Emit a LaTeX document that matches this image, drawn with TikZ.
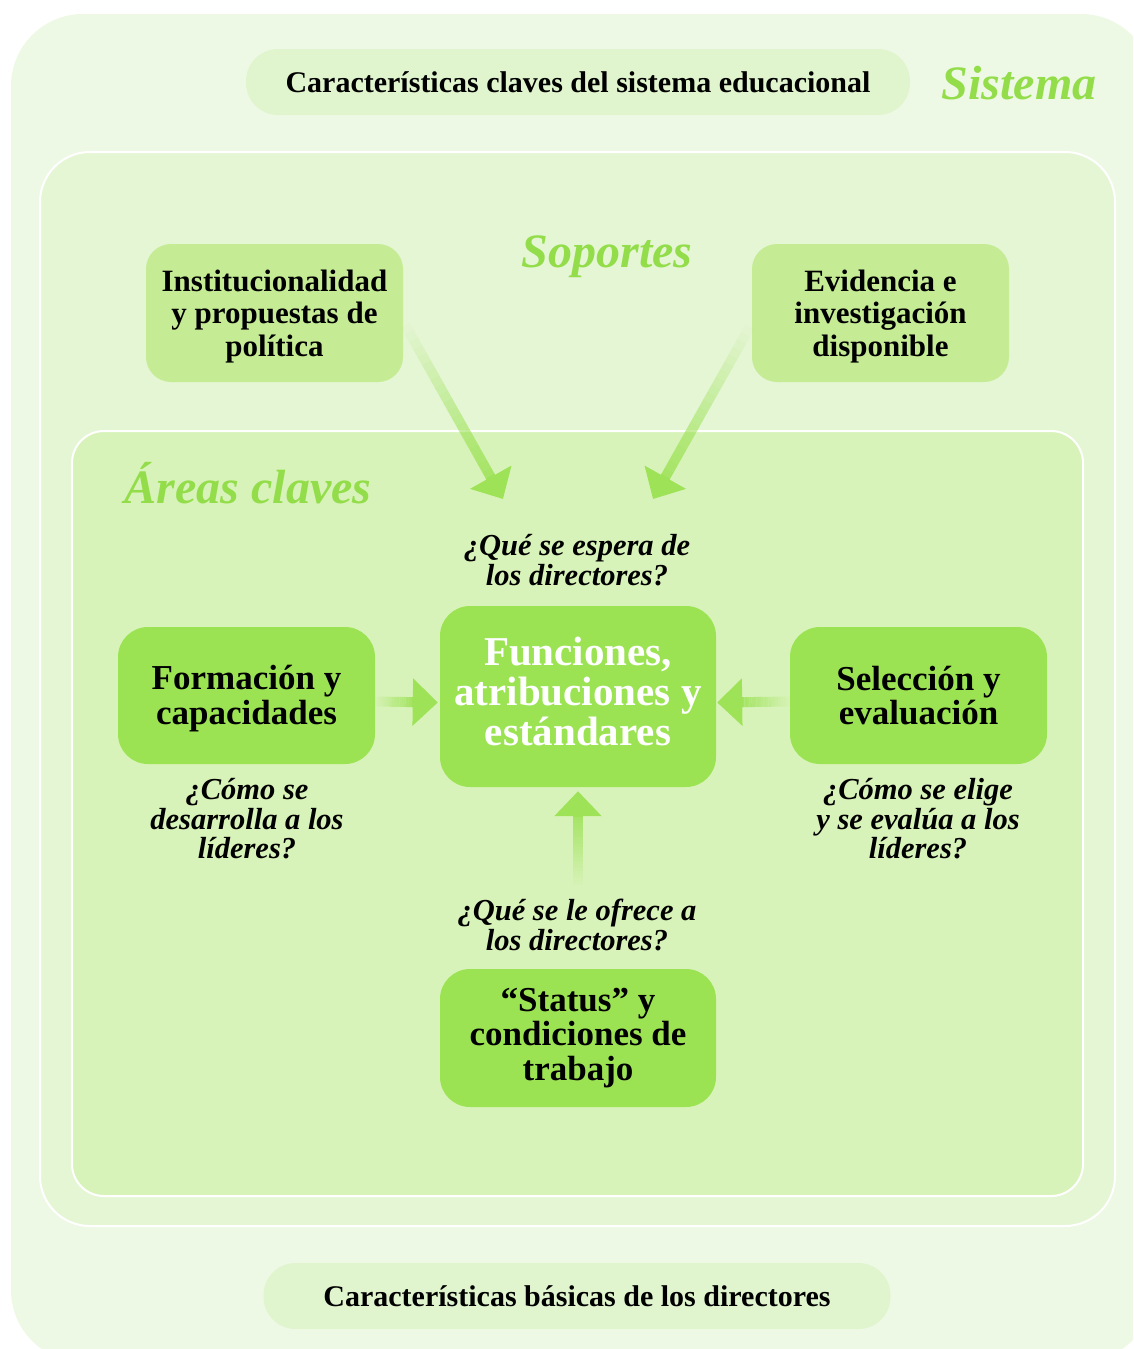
\documentclass[tikz,border=0pt]{standalone}
\usepackage{fontspec}
\setmainfont{Liberation Serif}
\usetikzlibrary{calc,arrows.meta}

\definecolor{bgouter}{HTML}{EEF9E5}
\definecolor{bgmid}{HTML}{E5F6D5}
\definecolor{bginner}{HTML}{D8F3B9}
\definecolor{pillgreen}{HTML}{E0F5CD}
\definecolor{softgreen}{HTML}{C5EC95}
\definecolor{boxgreen}{HTML}{9CE354}
\definecolor{titlegreen}{HTML}{93DD4B}
\definecolor{arrowgreen}{HTML}{9DE257}

\tikzset{
  pill/.style={fill=pillgreen, rounded corners=32pt, minimum height=66pt,
    font=\fontsize{30}{34}\selectfont\bfseries},
  softbox/.style={fill=softgreen, rounded corners=25pt, minimum width=257pt,
    minimum height=138pt, align=center, text height=93pt,
    font=\fontsize{31}{32.5}\selectfont\bfseries},
  greenbox/.style={fill=boxgreen, rounded corners=30pt, minimum width=257pt,
    minimum height=137pt, align=center, font=\fontsize{35}{34.5}\selectfont\bfseries},
  question/.style={align=center, font=\fontsize{30.5}{29.5}\selectfont\bfseries\itshape},
  areatitle/.style={text=titlegreen, font=\fontsize{48}{50}\selectfont\bfseries\itshape},
  frame/.style={draw=white, line width=2pt},
}

% shaft fades in towards the head
\newcommand{\fadearrow}[2]{%
  \coordinate (fa-base) at ($(#2)!25pt!(#1)$);
  \foreach \k in {0,...,19}{%
    \pgfmathsetmacro{\op}{0.04+0.8*\k/19}
    \draw[arrowgreen, line width=10pt, draw opacity=\op]
      ($(#1)!\k/20!(fa-base)$) -- ($(#1)!\k/20+1/20!(fa-base)$);
  }
  \draw[arrowgreen, line width=10pt, -{Triangle[width=46pt,length=25pt]}]
    ($(#2)!26pt!(#1)$) -- (#2);
}

\begin{document}
\begin{tikzpicture}[x=1pt, y=-1pt]
    \useasboundingbox (0,0) rectangle (1133,1349);
    \clip (0,0) rectangle (1133,1349);

    % frames
    \fill[bgouter, rounded corners=72pt] (11,14) rectangle (1153,1362);
    \draw[frame, fill=bgmid, rounded corners=50pt] (40,152) rectangle (1115,1226);
    \draw[frame, fill=bginner, rounded corners=32pt] (72,431) rectangle (1083,1196);

    \node[pill, minimum width=664pt] (clave) at (578,82) {Características claves del sistema educacional};
    \node[pill, minimum width=627pt] (basica) at (577,1296) {Características básicas de los directores};
    \node[areatitle] (tsist) at (1019,83) {Sistema};
    \node[areatitle] (tsop) at (607,257) {Soportes};
    \node[areatitle] (tarea) at (248,483) {Áreas claves};

    % soportes
    \node[softbox] (inst) at (274.5,313) {Institucionalidad\\y propuestas de\\política};
    \node[softbox] (evid) at (880.5,313) {Evidencia e\\investigación\\disponible};

    % areas claves
    \node[greenbox, minimum width=276pt, minimum height=181pt, text=white, text depth=10pt,
      font=\fontsize{41}{40}\selectfont\bfseries] (func) at (578,696.5) {Funciones,\\atribuciones y\\estándares};
    \node[greenbox, text height=65pt] (form) at (246.5,695.5) {Formación y\\capacidades};
    \node[greenbox] (selec) at (918.5,695.5) {Selección y\\evaluación};
    \node[greenbox, minimum width=276pt, minimum height=138pt] (status) at (578,1038) {“Status” y\\condiciones de\\trabajo};

    \node[question] (qesp) at (577,560) {¿Qué se espera de\\los directores?};
    \node[question] (qform) at (247,819) {¿Cómo se\\desarrolla a los\\líderes?};
    \node[question] (qsel) at (918,819) {¿Cómo se elige\\y se evalúa a los\\líderes?};
    \node[question] (qofr) at (577,925) {¿Qué se le ofrece a\\los directores?};

    % arrows
    \coordinate (instout) at ($(inst.east)+(2,12)$);
    \coordinate (evidout) at ($(evid.west)+(-2,14)$);
    \coordinate (tipL) at (503,499);
    \coordinate (tipR) at (653,499);
    \coordinate (formout) at ($(form.east)+(0,6)$);
    \coordinate (formin) at ($(func.west)+(-2,6)$);
    \coordinate (selecout) at ($(selec.west)+(0,6)$);
    \coordinate (selecin) at ($(func.east)+(1,6)$);
    \coordinate (ofrtop) at (578,885);
    \coordinate (funcin) at ($(func.south)+(0,4)$);

    \fadearrow{instout}{tipL}
    \fadearrow{evidout}{tipR}
    \fadearrow{formout}{formin}
    \fadearrow{selecout}{selecin}
    \fadearrow{ofrtop}{funcin}
\end{tikzpicture}
\end{document}
